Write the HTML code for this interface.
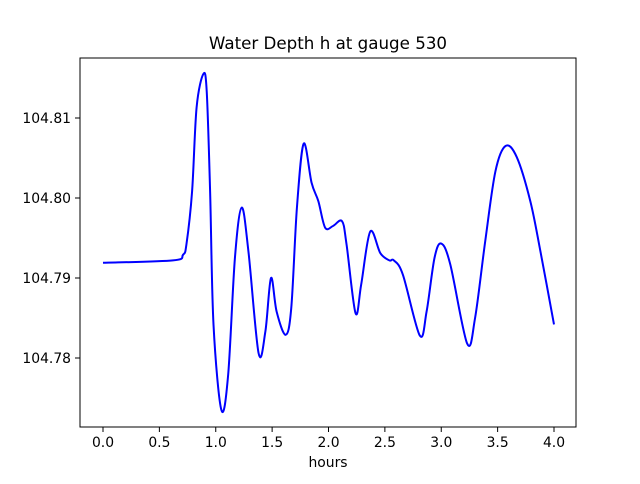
<!DOCTYPE html>
<html><head><meta charset="utf-8"><style>
body{margin:0;background:#fff;font-family:"DejaVu Sans","Liberation Sans",sans-serif}
svg text{font-family:"DejaVu Sans","Liberation Sans",sans-serif}
</style></head><body>
<svg id="chart" width="640" height="480">
<rect width="640" height="480" fill="#fff"/>
<g id="plot"></g>
</svg>
<script>
const hours=[0,0.62,0.71,0.74,0.79,0.83,0.89,0.92,0.95,0.98,1.05,1.11,1.17,1.23,1.29,1.38,1.44,1.49,1.54,1.62,1.67,1.72,1.78,1.85,1.91,1.97,2.04,2.12,2.16,2.24,2.29,2.37,2.46,2.54,2.58,2.66,2.81,2.87,2.94,3.00,3.08,3.23,3.30,3.39,3.48,3.57,3.67,3.79,3.88,4.00];
const depth=[104.7919,104.7922,104.7929,104.7942,104.8008,104.8113,104.8155,104.8133,104.8008,104.7842,104.7735,104.7779,104.7925,104.7988,104.7933,104.7806,104.7833,104.7900,104.7858,104.7829,104.7863,104.7988,104.8068,104.8019,104.7996,104.7963,104.7965,104.7971,104.7942,104.7856,104.7892,104.7958,104.7931,104.7922,104.7922,104.7904,104.7828,104.7858,104.7925,104.7943,104.7917,104.7818,104.7850,104.7946,104.8033,104.8065,104.8051,104.7996,104.7933,104.7842];
const xTicks=[0,0.5,1,1.5,2,2.5,3,3.5,4];
const xTickLabels=["0.0","0.5","1.0","1.5","2.0","2.5","3.0","3.5","4.0"];
const yTicks=[104.78,104.79,104.80,104.81];
const yTickLabels=["104.78","104.79","104.80","104.81"];
const L=80,R=576,T=58,B=427;
const xs=v=>103+v*112.75;
const ys=v=>358-(v-104.78)*8000;
const NS="http://www.w3.org/2000/svg";
const g=document.getElementById('plot');
function mk(tag,attrs,parent){const e=document.createElementNS(NS,tag);for(const k in attrs)e.setAttribute(k,attrs[k]);(parent||g).appendChild(e);return e;}
const P=hours.map((h,i)=>[xs(h),ys(depth[i])]);
let d="M"+P[0][0]+","+P[0][1];
for(let i=0;i<P.length-1;i++){const p0=P[Math.max(0,i-1)],p1=P[i],p2=P[i+1],p3=P[Math.min(P.length-1,i+2)];
d+=" C"+(p1[0]+(p2[0]-p0[0])/6)+","+(p1[1]+(p2[1]-p0[1])/6)+" "+(p2[0]-(p3[0]-p1[0])/6)+","+(p2[1]-(p3[1]-p1[1])/6)+" "+p2[0]+","+p2[1];}
const line=mk('path',{d:d,fill:'none',stroke:'#0000ff','stroke-width':2,'stroke-linejoin':'round'});


const fr=mk('rect',{x:L,y:T,width:R-L,height:B-T,fill:'none',stroke:'#000','stroke-width':1});


xTicks.forEach((t,i)=>{const x=xs(t);
mk('line',{x1:x,x2:x,y1:B,y2:B+5,stroke:'#000'});
const tx=mk('text',{x:x,y:B+20,'text-anchor':'middle','font-size':13.9});tx.textContent=xTickLabels[i];

});
yTicks.forEach((t,i)=>{const y=ys(t);
mk('line',{x1:L-5,x2:L,y1:y,y2:y,stroke:'#000'});
const tx=mk('text',{x:L-9,y:y+5,'text-anchor':'end','font-size':13.9});tx.textContent=yTickLabels[i];

});
const xt=mk('text',{x:328,y:467,'text-anchor':'middle','font-size':13.9});xt.textContent='hours';


const ti=mk('text',{x:328,y:49,'text-anchor':'middle','font-size':16.7});ti.textContent='Water Depth h at gauge 530';


</script>
</body></html>
